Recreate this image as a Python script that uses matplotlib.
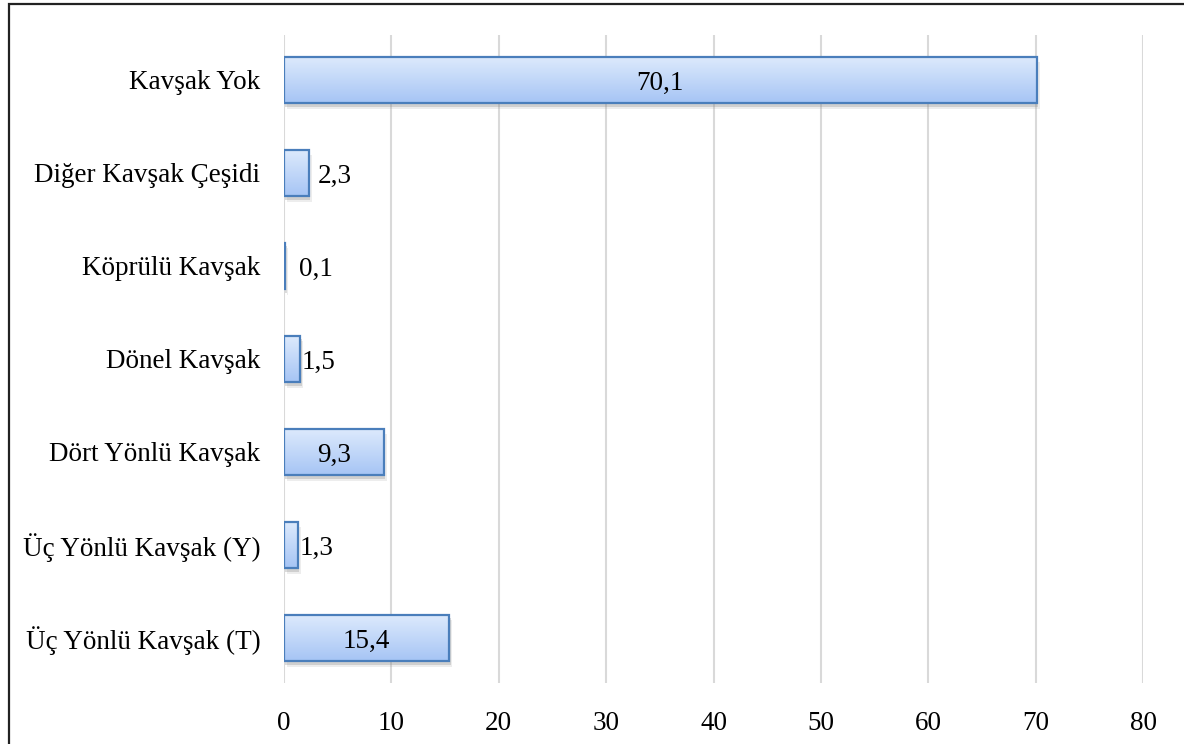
import matplotlib.pyplot as plt
import matplotlib.patheffects as pe
import numpy as np
from matplotlib.patches import Rectangle

# junction type shares (%), bottom to top
categories = ["Üç Yönlü Kavşak (T)", "Üç Yönlü Kavşak (Y)", "Dört Yönlü Kavşak",
              "Dönel Kavşak", "Köprülü Kavşak", "Diğer Kavşak Çeşidi", "Kavşak Yok"]
values = [15.4, 1.3, 9.3, 1.5, 0.1, 2.3, 70.1]
x_ticks = [0, 10, 20, 30, 40, 50, 60, 70, 80]

plt.rcParams["font.family"] = ["Liberation Serif", "DejaVu Serif"]
FS = 19.5

fig = plt.figure(figsize=(11.84, 7.44), dpi=100)
ax = fig.add_axes([0.2399, 0.082, 0.7255, 0.871])

# outer frame, running off the right and bottom edges
fig.patches.append(Rectangle((9 / 1184, -0.05), 1.2, 1 - 4 / 744 + 0.05,
                             transform=fig.transFigure, fill=False,
                             edgecolor="#222222", linewidth=1.6, zorder=10))

ax.set_xlim(0, 80)
ax.set_ylim(-0.484, len(categories) - 1 + 0.484)
ax.set_xticks(x_ticks)
ax.set_xticklabels([str(t) for t in x_ticks], fontsize=FS)
ax.set_yticks(range(len(categories)))
ax.set_yticklabels(categories, fontsize=FS)
ax.tick_params(length=0)
ax.tick_params(axis="x", pad=20)
ax.tick_params(axis="y", pad=17)
for s in ax.spines.values():
    s.set_visible(False)
ax.xaxis.grid(True, color="#d9d9d9", linewidth=1.5)
ax.set_axisbelow(True)

# vertical gradient, light on top, darker blue at the bottom
grad = np.linspace(0, 1, 256).reshape(-1, 1)
top = np.array([0.87, 0.92, 0.99])
bot = np.array([0.65, 0.77, 0.96])
grad_rgb = top + (bot - top) * grad[:, :, None]

h = 0.5
out_offsets = {1.3: 2, 1.5: 1, 0.1: 14, 2.3: 9}
for i, v in enumerate(values):
    y0 = i - h / 2
    # soft drop shadow under the bar, two faint layers
    shadow = Rectangle((0, y0), v, h, facecolor="white", edgecolor="none", zorder=2.9)
    shadow.set_path_effects([
        pe.SimplePatchShadow(offset=(2, -4), shadow_rgbFace="#8c8c8c", alpha=0.15),
        pe.SimplePatchShadow(offset=(1, -2.5), shadow_rgbFace="#8c8c8c", alpha=0.3),
    ])
    ax.add_patch(shadow)
    clip = Rectangle((0, y0), v, h, facecolor="none", edgecolor="none")
    ax.add_patch(clip)
    im = ax.imshow(grad_rgb, extent=(0, v, y0, y0 + h), aspect="auto",
                   origin="upper", zorder=3, interpolation="bilinear")
    im.set_clip_path(clip)
    ax.add_patch(Rectangle((0, y0), v, h, facecolor="none", edgecolor="#4a7ebb",
                           linewidth=1.6, zorder=4))
    label = f"{v:.1f}".replace(".", ",")
    if v > 5:
        ax.text(v / 2, i, label, ha="center", va="center_baseline", fontsize=FS, zorder=5)
    else:
        ax.annotate(label, (v, i), xytext=(out_offsets.get(v, 6), 0),
                    textcoords="offset pixels", ha="left", va="center_baseline",
                    fontsize=FS, zorder=5)

ax.set_aspect("auto")
fig.savefig("out.png", dpi=100)
